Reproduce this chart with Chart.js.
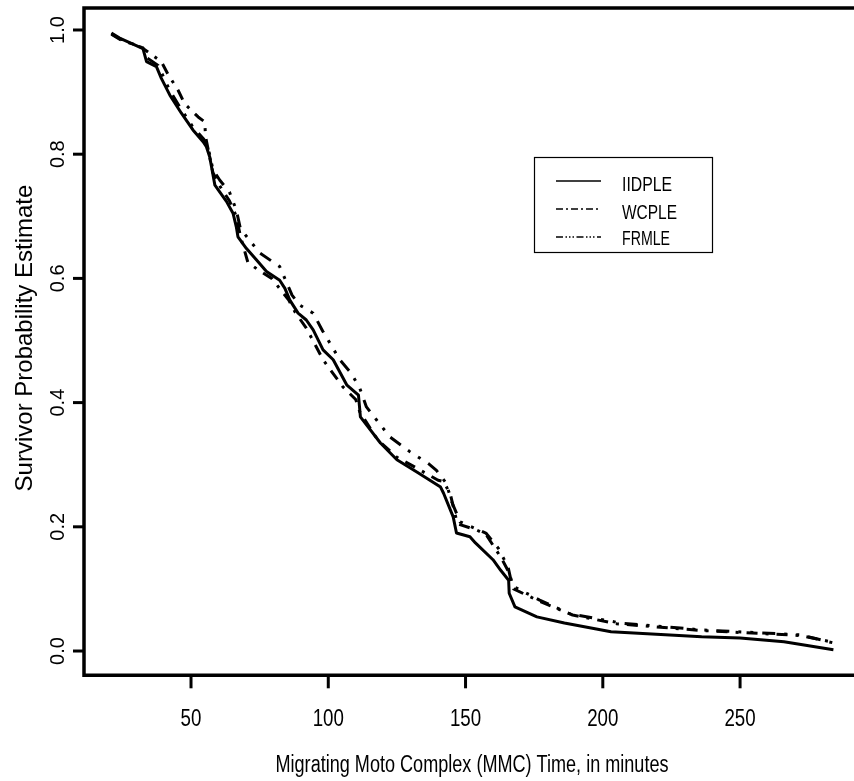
<!DOCTYPE html>
<html>
<head>
<meta charset="utf-8">
<script src="https://cdn.jsdelivr.net/npm/chart.js@4/dist/chart.umd.min.js"></script>
<style>
  html, body { margin: 0; padding: 0; background: #fff; overflow: hidden; }
  canvas { display: block; }
</style>
</head>
<body>
<canvas id="survChart" width="854" height="781"></canvas>
<script>
const seriesNames = ["IIDPLE", "WCPLE", "FRMLE"];
const xTicks = [50, 100, 150, 200, 250];
const yTicks = [0, 0.2, 0.4, 0.6, 0.8, 1.0];
const yTickLabels = ["0.0", "0.2", "0.4", "0.6", "0.8", "1.0"];
const xTitle = "Migrating Moto Complex (MMC) Time, in minutes";
const yTitle = "Survivor Probability Estimate";

// IIDPLE (solid)
const iidpleTime = [21, 24, 32.5, 33.8, 37.4, 39.2, 42.3, 46.5, 50.7, 54.4, 55.6, 56.8, 58.7, 61.6, 62.9, 65.3, 66.5, 67.1, 70.2, 73.8,
  77.5, 82.3, 84.2, 86, 89, 92, 94.5, 98.1, 101.8, 106.8, 111, 111.7, 119, 125, 132.4, 140.9, 142, 145.5, 146.7, 151.6,
  153.6, 160, 162.8, 165.7, 165.9, 168, 176, 186, 203, 236, 250, 266, 284];
const iidpleSurv = [0.995, 0.987, 0.970, 0.949, 0.941, 0.922, 0.895, 0.866, 0.839, 0.820, 0.812, 0.796, 0.750, 0.732, 0.724, 0.705, 0.683, 0.667, 0.648, 0.630,
  0.611, 0.597, 0.584, 0.565, 0.544, 0.533, 0.517, 0.485, 0.469, 0.428, 0.412, 0.377, 0.335, 0.308, 0.288, 0.264, 0.254, 0.216, 0.190, 0.184,
  0.174, 0.147, 0.130, 0.114, 0.093, 0.071, 0.055, 0.045, 0.031, 0.023, 0.021, 0.015, 0.002];

// WCPLE (dash-dot)
const wcpleTime = [21, 24, 32, 34.2, 39.2, 41.7, 45.3, 47.7, 52.6, 55, 55.3, 58, 61, 64, 66.5, 68, 70.7, 75, 79.4, 85.6,
  88, 92, 98.1, 105.2, 110, 111.5, 118, 125, 132, 140, 142.1, 144.6, 147, 154, 157.4, 163, 166, 167.5, 177, 189,
  205, 236, 272, 284];
const wcpleSurv = [0.993, 0.985, 0.972, 0.965, 0.949, 0.928, 0.903, 0.881, 0.860, 0.852, 0.828, 0.770, 0.745, 0.725, 0.700, 0.668, 0.626, 0.612, 0.600, 0.565,
  0.545, 0.520, 0.469, 0.426, 0.405, 0.385, 0.340, 0.312, 0.295, 0.275, 0.273, 0.250, 0.205, 0.195, 0.188, 0.150, 0.125, 0.100, 0.080, 0.058,
  0.044, 0.033, 0.025, 0.014];

// FRMLE (dash-dot-dot)
const frmleTime = [21, 24, 32.5, 34, 38, 42, 46, 50.5, 54.5, 56, 58, 60.5, 64, 66.5, 68, 75, 82.3, 86.8, 89.6, 94.5,
  98, 104.2, 108.4, 111.5, 113.9, 117.6, 122.4, 129.7, 136.4, 139.4, 143, 145, 148, 157.4, 162, 165.5, 167, 177, 188, 206.6,
  236, 272, 284];
const frmleSurv = [0.994, 0.986, 0.971, 0.955, 0.943, 0.905, 0.875, 0.845, 0.825, 0.815, 0.775, 0.758, 0.739, 0.710, 0.680, 0.641, 0.619, 0.573, 0.557, 0.544,
  0.515, 0.469, 0.447, 0.423, 0.393, 0.372, 0.345, 0.321, 0.302, 0.291, 0.270, 0.240, 0.208, 0.190, 0.165, 0.135, 0.105, 0.082, 0.060, 0.045,
  0.034, 0.026, 0.013];

const FONT = '"Liberation Sans", Arial, sans-serif';

function toPoints(xs, ys) {
  return xs.map((x, i) => ({ x: x, y: ys[i] }));
}

// draw text, optionally squeezed to a target width and rotated
function putText(ctx, str, x, y, size, opts) {
  opts = opts || {};
  ctx.save();
  ctx.translate(x, y);
  if (opts.rot) ctx.rotate(opts.rot);
  ctx.font = size + "px " + FONT;
  let sx = opts.sx || 1;
  if (opts.width) sx = opts.width / ctx.measureText(str).width;
  ctx.scale(sx, 1);
  ctx.textAlign = opts.align || "left";
  ctx.textBaseline = "alphabetic";
  ctx.fillStyle = "#000";
  ctx.fillText(str, 0, 0);
  ctx.restore();
}

const dashes = [[], [11, 8, 3, 8], [13, 9, 3, 9, 3, 9]];
const legendDashes = [[], [7, 3, 2, 3], [7, 2.5, 1.5, 2, 1.5, 2, 1.5, 2.5]];

const framePlugin = {
  id: "frame",
  afterDraw(chart) {
    const ctx = chart.ctx;
    const xs = chart.scales.x, ys = chart.scales.y;
    const a = chart.chartArea;
    ctx.save();
    ctx.strokeStyle = "#000";
    ctx.lineCap = "butt";

    // box (right side falls outside the picture)
    ctx.lineWidth = 3.5;
    ctx.beginPath();
    ctx.moveTo(a.right + 5, a.top);
    ctx.lineTo(a.left, a.top);
    ctx.lineTo(a.left, a.bottom);
    ctx.lineTo(a.right + 5, a.bottom);
    ctx.stroke();

    // y ticks + labels
    ctx.lineWidth = 3;
    yTicks.forEach((v, i) => {
      const py = ys.getPixelForValue(v);
      ctx.beginPath();
      ctx.moveTo(a.left, py);
      ctx.lineTo(a.left - 11, py);
      ctx.stroke();
      putText(ctx, yTickLabels[i], 64, py, 20, { rot: -Math.PI / 2, align: "center" });
    });

    // x ticks + labels
    xTicks.forEach(v => {
      const px = xs.getPixelForValue(v);
      ctx.beginPath();
      ctx.moveTo(px, a.bottom);
      ctx.lineTo(px, a.bottom + 13);
      ctx.stroke();
      putText(ctx, String(v), px, 726, 24, { sx: 0.78, align: "center" });
    });

    // axis titles
    putText(ctx, xTitle, 472, 772, 23, { width: 393, align: "center" });
    putText(ctx, yTitle, 31.5, 338, 24, { rot: -Math.PI / 2, align: "center" });

    // legend
    ctx.lineWidth = 1.2;
    ctx.strokeRect(534.5, 157.5, 178, 95);
    const rows = [181, 209, 237];
    const base = [190.5, 218.5, 245];
    const widths = [50, 55, 48];
    seriesNames.forEach((name, i) => {
      ctx.save();
      ctx.lineWidth = 1.6;
      ctx.setLineDash(legendDashes[i]);
      ctx.beginPath();
      ctx.moveTo(556, rows[i]);
      ctx.lineTo(601, rows[i]);
      ctx.stroke();
      ctx.restore();
      putText(ctx, name, 622, base[i], 21, { width: widths[i] });
    });
    ctx.restore();
  }
};

new Chart(document.getElementById("survChart"), {
  type: "line",
  data: {
    datasets: [
      { label: seriesNames[0], data: toPoints(iidpleTime, iidpleSurv), borderWidth: 3, borderDash: dashes[0] },
      { label: seriesNames[1], data: toPoints(wcpleTime, wcpleSurv), borderWidth: 3, borderDash: dashes[1] },
      { label: seriesNames[2], data: toPoints(frmleTime, frmleSurv), borderWidth: 3, borderDash: dashes[2] }
    ].map(d => Object.assign(d, {
      borderColor: "#000",
      backgroundColor: "#000",
      pointRadius: 0,
      tension: 0,
      fill: false,
      borderJoinStyle: "round"
    }))
  },
  options: {
    responsive: false,
    animation: false,
    devicePixelRatio: 1,
    layout: { padding: { left: 84, top: 8, right: 0, bottom: 105.7 } },
    plugins: {
      legend: { display: false },
      tooltip: { enabled: false }
    },
    scales: {
      x: { type: "linear", min: 11.02, max: 291.5, display: false },
      y: { type: "linear", min: -0.0391, max: 1.0354, display: false }
    }
  },
  plugins: [framePlugin]
});
</script>
</body>
</html>
